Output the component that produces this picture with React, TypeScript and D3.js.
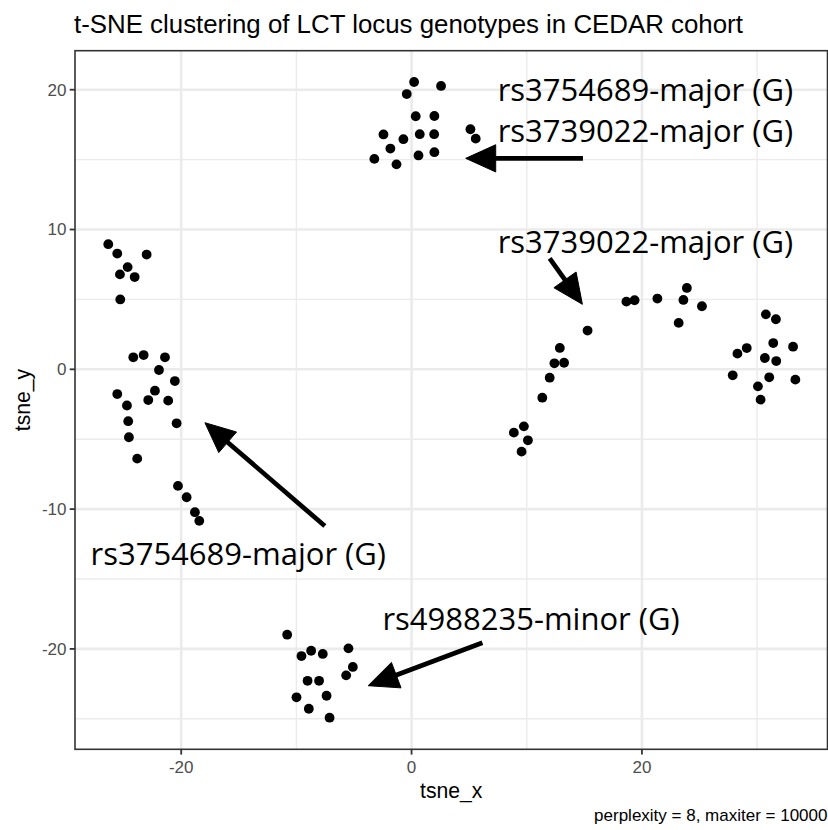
import React from "react";
import * as d3 from "d3";

// ---- data ----
const tsneX = [
  // left cluster
  -26.33, -25.55, -23.0, -24.65, -25.32, -24.04, -25.29, -24.16, -23.26, -21.41,
  -21.93, -20.55, -25.55, -22.28, -22.86, -21.13, -24.71, -24.6, -20.4, -24.54,
  -23.82, -20.28, -19.53, -18.81, -18.43,
  // top cluster
  0.22, 2.56, -0.42, 0.36, 1.98, -2.44, 0.71, 1.96, 5.11, 5.57, -0.71, -1.84,
  -3.23, 0.6, 1.98, -1.31,
  // arc
  18.65, 19.36, 21.34, 23.9, 23.6, 25.21, 23.19, 15.28, 12.87, 12.4, 13.24, 11.99,
  11.35, 9.75, 8.88, 10.1, 9.55,
  // right cluster
  30.76, 31.63, 31.4, 33.12, 29.1, 28.29, 30.67, 31.66, 27.88, 31.05, 33.32, 30.07, 30.3,
  // bottom cluster
  -10.8, -9.56, -8.72, -7.71, -5.48, -5.1, -5.68, -9.03, -8.03, -9.99, -7.38, -8.92, -7.12,
];
const tsneY = [
  8.95, 8.28, 8.21, 7.31, 6.79, 6.6, 5.0, 0.86, 1.02, 0.86,
  -0.05, -0.84, -1.77, -1.53, -2.2, -2.24, -2.59, -3.71, -3.86, -4.86,
  -6.39, -8.34, -9.15, -10.22, -10.84,
  20.55, 20.27, 19.69, 18.1, 18.12, 16.8, 16.82, 16.82, 17.17, 16.5, 16.46, 15.79,
  15.05, 15.3, 15.53, 14.66,
  4.84, 4.94, 5.06, 5.82, 4.96, 4.51, 3.32, 2.77, 1.53, 0.43, 0.47, -0.6,
  -2.03, -4.08, -4.53, -5.08, -5.89,
  3.93, 3.58, 1.88, 1.62, 1.52, 1.12, 0.81, 0.59, -0.43, -0.57, -0.74, -1.22, -2.17,
  -18.98, -20.51, -20.13, -20.36, -19.96, -21.29, -21.89, -22.28, -22.28, -23.46, -23.35, -24.28, -24.92,
];

const xMajorTicks = [-20, 0, 20];
const xMinorTicks = [-10, 10, 30];
const yMajorTicks = [-20, -10, 0, 10, 20];
const yMinorTicks = [-25, -15, -5, 5, 15];

const labelTexts = [
  "rs3754689-major (G)",
  "rs3739022-major (G)",
  "rs3739022-major (G)",
  "rs3754689-major (G)",
  "rs4988235-minor (G)",
];
const labelX = [20.3, 20.3, 20.3, -15.05, 10.37];
const labelY = [19.2, 16.28, 8.3, -14.0, -18.65];

const arrowFromX = [14.88, 11.99, -7.53, 6.15];
const arrowFromY = [15.09, 7.94, -11.21, -19.56];
const arrowToX = [4.7, 14.83, -17.94, -3.77];
const arrowToY = [15.09, 4.65, -3.82, -22.63];

const titleText = "t-SNE clustering of LCT locus genotypes in CEDAR cohort";
const captionText = "perplexity = 8, maxiter = 10000";

// ---- layout ----
const W = 828;
const H = 830;
const left = 75;
const right = 827.5;
const top = 50.7;
const bottom = 749.3;
const SANS = "'Liberation Sans', Arial, Helvetica, sans-serif";
const ANNO = "'Open Sans', 'Noto Sans', sans-serif";

export default function App() {
  const x = d3.scaleLinear().domain([-29.22, 36.11]).range([left, right]);
  const y = d3.scaleLinear().domain([-27.18, 22.79]).range([bottom, top]);

  const arrows = arrowFromX.map((fx, i) => {
    const x0 = x(fx), y0 = y(arrowFromY[i]);
    const x1 = x(arrowToX[i]), y1 = y(arrowToY[i]);
    const dx = x1 - x0, dy = y1 - y0;
    const len = Math.hypot(dx, dy);
    const ux = dx / len, uy = dy / len;
    const L = 30, hw = 13.6;
    const bx = x1 - ux * L, by = y1 - uy * L;
    const px = -uy, py = ux;
    const head = d3.line()([
      [x1, y1],
      [bx + px * hw, by + py * hw],
      [bx - px * hw, by - py * hw],
    ]) + "Z";
    return { x0, y0, sx: bx + ux * 4, sy: by + uy * 4, head };
  });

  return (
    <svg
      width={W}
      height={H}
      style={{ position: "absolute", left: 0, top: 0, background: "#fff" }}
    >
      <rect x={0} y={0} width={W} height={H} fill="#fff" />
      <text x={left - 1} y={33} fontFamily={SANS} fontSize={25.85} fill="#000">
        {titleText}
      </text>

      {/* grid */}
      <g>
        {xMinorTicks.map((t) => (
          <line key={"xm" + t} x1={x(t)} x2={x(t)} y1={top} y2={bottom} stroke="#EBEBEB" strokeWidth={1.4} />
        ))}
        {yMinorTicks.map((t) => (
          <line key={"ym" + t} x1={left} x2={right} y1={y(t)} y2={y(t)} stroke="#EBEBEB" strokeWidth={1.4} />
        ))}
        {xMajorTicks.map((t) => (
          <line key={"xM" + t} x1={x(t)} x2={x(t)} y1={top} y2={bottom} stroke="#EBEBEB" strokeWidth={2.6} />
        ))}
        {yMajorTicks.map((t) => (
          <line key={"yM" + t} x1={left} x2={right} y1={y(t)} y2={y(t)} stroke="#EBEBEB" strokeWidth={2.6} />
        ))}
      </g>

      {/* points */}
      <g>
        {tsneX.map((v, i) => (
          <circle key={i} cx={x(v)} cy={y(tsneY[i])} r={4.9} fill="#000" />
        ))}
      </g>

      {/* panel border */}
      <rect x={left} y={top} width={right - left} height={bottom - top} fill="none" stroke="#333" strokeWidth={1.6} />

      {/* axes */}
      <g>
        {xMajorTicks.map((t) => (
          <g key={"xt" + t}>
            <line x1={x(t)} x2={x(t)} y1={bottom} y2={bottom + 5.3} stroke="#333" strokeWidth={1.8} />
            <text x={x(t)} y={772.5} textAnchor="middle" fontFamily={SANS} fontSize={17} fill="#4D4D4D">
              {t}
            </text>
          </g>
        ))}
        {yMajorTicks.map((t) => (
          <g key={"yt" + t}>
            <line x1={left - 5.3} x2={left} y1={y(t)} y2={y(t)} stroke="#333" strokeWidth={1.8} />
            <text x={left - 8.5} y={y(t)} dy="0.35em" textAnchor="end" fontFamily={SANS} fontSize={17} fill="#4D4D4D">
              {t}
            </text>
          </g>
        ))}
      </g>

      <text x={(left + right) / 2} y={798} textAnchor="middle" fontFamily={SANS} fontSize={21.2} fill="#000">
        tsne_x
      </text>
      <text
        transform={`translate(30,${(top + bottom) / 2}) rotate(-90)`}
        textAnchor="middle"
        fontFamily={SANS}
        fontSize={21.2}
        fill="#000"
      >
        tsne_y
      </text>
      <text x={right} y={821} textAnchor="end" fontFamily={SANS} fontSize={17} fill="#000">
        {captionText}
      </text>

      {/* annotations */}
      <g>
        {arrows.map((a, i) => (
          <g key={"ar" + i}>
            <line x1={a.x0} y1={a.y0} x2={a.sx} y2={a.sy} stroke="#000" strokeWidth={4.7} />
            <path d={a.head} fill="#000" stroke="#000" strokeWidth={1} strokeLinejoin="miter" />
          </g>
        ))}
        {labelTexts.map((t, i) => (
          <text key={"lb" + i} x={x(labelX[i])} y={y(labelY[i])} textAnchor="middle" fontFamily={ANNO} fontSize={31} fill="#000">
            {t}
          </text>
        ))}
      </g>
    </svg>
  );
}
